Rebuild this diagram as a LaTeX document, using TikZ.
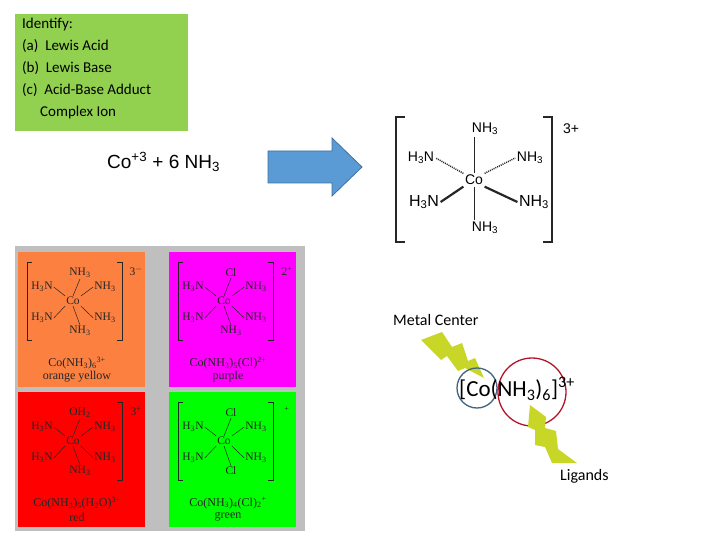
\documentclass[tikz,border=0pt]{standalone}
\usepackage{fontspec}
\setmainfont{Carlito}
\newfontfamily\sans{Liberation Sans}
\newfontfamily\serif{Liberation Serif}
\definecolor{porange}{RGB}{252,128,64}
\definecolor{pmag}{RGB}{255,0,255}
\definecolor{pred}{RGB}{255,0,0}
\definecolor{pgreen}{RGB}{0,255,0}
\definecolor{qgreen}{RGB}{146,208,80}
\definecolor{boltc}{RGB}{200,214,40}
\definecolor{arrf}{RGB}{91,155,213}
\definecolor{arrd}{RGB}{65,113,156}
\definecolor{mcblue}{RGB}{65,100,130}
\definecolor{ligred}{RGB}{180,20,40}
\newcommand{\panel}[9]{%
 \begin{scope}[shift={(#1,#2)}]
 \node[lig] (#3co) at (73,301) {Co};
 \node[lig] (#3a) at (80,273) {#4};
 \node[lig] (#3b) at (42,287) {H\textsubscript{3}N};
 \node[lig] (#3c) at (105,287) {NH\textsubscript{3}};
 \node[lig] (#3d) at (42,318) {H\textsubscript{3}N};
 \node[lig] (#3e) at (105,318) {NH\textsubscript{3}};
 \node[lig] (#3f) at (80,331) {#5};
 \node[lig] (#3q) at (136,271) {#6};
 \node[lab] (#3l) at (77,363) {#7};
 \node[lab] (#3m) at (77,377) {#8};
 \draw[bond] (#3co.north) -- (#3a.south); \draw[bond] (#3co.south) -- (#3f.north);
 \draw[bond] (#3co.north west) -- (#3b.east); \draw[bond] (#3co.north east) -- (#3c.west);
 \draw[bond] (#3co.south west) -- (#3d.east); \draw[bond] (#3co.south east) -- (#3e.west);
 \draw[brk] (117,262) -- (122,262) -- (122,340) -- (117,340);
 #9
 \end{scope}}
\begin{document}
\begin{tikzpicture}[x=1pt,y=-1pt,
  lig/.style={font=\serif\fontsize{11.5}{11.5}\selectfont,inner sep=1pt,text=black!85},
  lab/.style={font=\serif\fontsize{12}{12}\selectfont,inner sep=0pt,text=black!85},
  bond/.style={draw=black!85,line width=0.5pt},
  brk/.style={draw=black!85,line width=0.8pt},
  big/.style={font=\sans\fontsize{14}{14}\selectfont,inner sep=1.5pt},
  bolt/.style={fill=boltc,draw=none}]
\useasboundingbox (0,0) rectangle (720,540);
\fill[white] (0,0) rectangle (720,540);
% question box
\node[fill=qgreen,minimum width=173pt,minimum height=117pt,anchor=north west,inner sep=0pt] (qbox) at (15,14) {};
\node[anchor=north west,align=left,font=\fontsize{15}{22}\selectfont,inner sep=0pt] (qtext) at (22,18)
 {Identify:\\(a)\ \ Lewis Acid\\(b)\ \ Lewis Base\\(c)\ \ Acid-Base Adduct\\\hspace*{18pt}Complex Ion};
% equation
\node[font=\sans\fontsize{19}{19}\selectfont,anchor=west,inner sep=0pt] (eq) at (107,162) {Co\textsuperscript{+3} + 6 NH\textsubscript{3}};
% arrow
\draw[fill=arrf,draw=arrd,line width=0.8pt,line join=miter] (268,151) -- (332,151) -- (332,138) -- (362,167) -- (332,196) -- (332,183) -- (268,183) -- cycle;
% top right complex
\node[big] (co) at (474,180) {Co};
\node[big] (t1) at (485,129) {NH\textsubscript{3}};
\node[big] (t2) at (421,158) {H\textsubscript{3}N};
\node[big] (t3) at (530,158) {NH\textsubscript{3}};
\node[big,font=\sans\fontsize{16}{16}\selectfont] (t4) at (424,202) {H\textsubscript{3}N};
\node[big,font=\sans\fontsize{16}{16}\selectfont] (t5) at (534,202) {NH\textsubscript{3}};
\node[big] (t6) at (485,228) {NH\textsubscript{3}};
\node[big] (tc) at (571,129) {3+};
\draw[bond] (co.north) -- (co.north |- t1.south); \draw[bond] (co.south) -- (co.south |- t6.north);
\draw[bond,dash pattern=on 1pt off 1pt,line width=1.5pt] (co.north west) -- (t2.east);
\draw[bond,dash pattern=on 1pt off 1pt,line width=1.5pt] (co.north east) -- (t3.west);
\draw[bond,line width=2.2pt] (co.south west) -- (t4.east);
\draw[bond,line width=2.2pt] (co.south east) -- (t5.west);
\draw[brk,line width=1.2pt] (405,117) -- (396,117) -- (396,242) -- (405,242);
\draw[brk,line width=1.2pt] (543,117) -- (552,117) -- (552,242) -- (543,242);
% grid
\fill[black!25] (15,246) rectangle (305,531);
\fill[porange] (18,252) rectangle ++(127,135);
\fill[pmag] (169,252) rectangle ++(127,135);
\fill[pred] (18,392) rectangle ++(127,135);
\fill[pgreen] (169,392) rectangle ++(127,135);
\panel{0}{0}{o}{NH\textsubscript{3}}{NH\textsubscript{3}}{3\textsuperscript{$-$}}{Co(NH\textsubscript{3})\textsubscript{6}\textsuperscript{3+}}{orange yellow}{\draw[brk] (32,262) -- (27,262) -- (27,340) -- (32,340);}
\panel{151}{0}{m}{Cl}{NH\textsubscript{3}}{2\textsuperscript{+}}{Co(NH\textsubscript{3})\textsubscript{5}(Cl)\textsuperscript{2+}}{purple}{\draw[brk] (32,262) -- (27,262) -- (27,340) -- (32,340);}
\panel{0}{140}{r}{OH\textsubscript{2}}{NH\textsubscript{3}}{3\textsuperscript{+}}{Co(NH\textsubscript{3})\textsubscript{5}(H\textsubscript{2}O)\textsuperscript{3+}}{red}{}
\panel{151}{140}{g}{Cl}{Cl}{\textsuperscript{+}}{Co(NH\textsubscript{3})\textsubscript{4}(Cl)\textsubscript{2}\textsuperscript{+}}{green}{\draw[brk] (32,262) -- (27,262) -- (27,340) -- (32,340);}
% metal center part
\node[font=\fontsize{16}{16}\selectfont,anchor=west,inner sep=0pt] (mc) at (393,320) {Metal Center};
\node[font=\fontsize{16}{16}\selectfont,anchor=west,inner sep=0pt] (lg) at (560,476) {Ligands};
\draw[bolt] (421,340) -- (442,332) -- (452,347) -- (462,343) -- (468,361) -- (475,358) -- (484,378) -- (465,368) -- (458,371) -- (447,356) -- (441,360) -- cycle;
\draw[mcblue,line width=1.3pt] (477,388) circle (20);
\draw[ligred,line width=1.3pt] (532,392) circle (34);
\node[font=\fontsize{23}{23}\selectfont,anchor=west,inner sep=0pt] (fm) at (459,389) {[Co(NH\textsubscript{3})\textsubscript{6}]\textsuperscript{3+}};
\draw[bolt] (530,405) -- (546,417) -- (545,428) -- (556,431) -- (558,449) -- (577,463) -- (552,463) -- (545,447) -- (535,445) -- (535,430) -- (528,427) -- cycle;
\end{tikzpicture}
\end{document}
